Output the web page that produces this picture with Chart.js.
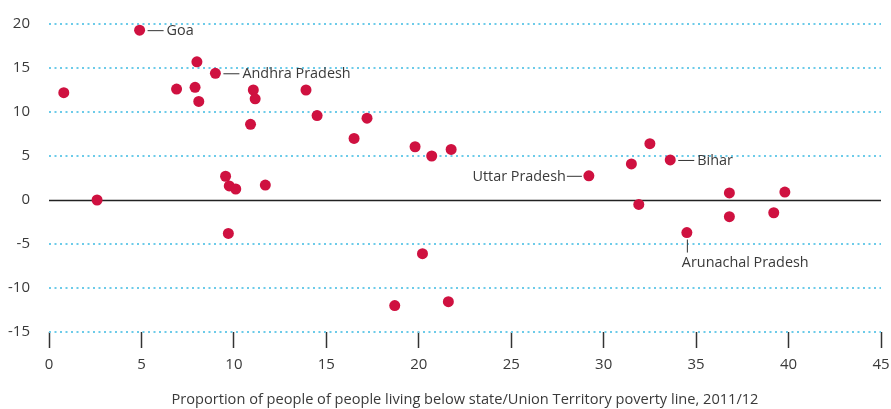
<!DOCTYPE html>
<html>
<head>
<meta charset="utf-8">
<script src="https://cdn.jsdelivr.net/npm/chart.js@4.4.1/dist/chart.umd.min.js"></script>
<style>
  html, body { margin: 0; padding: 0; background: #fff; }
  #wrap { width: 891px; height: 409px; }
</style>
</head>
<body>
<div id="wrap"><canvas id="scatter"></canvas></div>
<script>
// Values
var povertyShare = [0.8, 2.6, 4.9, 6.9, 7.9, 8.0, 8.1, 9.0, 11.05, 11.15, 10.9, 9.55, 9.75, 10.1, 11.7, 9.7,
  13.9, 14.5, 17.2, 16.5, 19.8, 20.7, 21.75, 20.2, 18.7, 21.6,
  29.2, 31.5, 32.5, 33.6, 31.9, 34.5, 36.8, 36.8, 39.2, 39.8];
var change = [12.2, 0, 19.3, 12.6, 12.8, 15.7, 11.2, 14.4, 12.5, 11.5, 8.6, 2.7, 1.6, 1.25, 1.7, -3.8,
  12.5, 9.6, 9.3, 7.0, 6.05, 5.0, 5.75, -6.1, -12.0, -11.55,
  2.75, 4.1, 6.4, 4.55, -0.5, -3.7, 0.8, -1.9, -1.45, 0.9];
var xTicks = [0, 5, 10, 15, 20, 25, 30, 35, 40, 45];
var yTicks = [-15, -10, -5, 0, 5, 10, 15, 20];
var labelledStates = ['Goa', 'Andhra Pradesh', 'Uttar Pradesh', 'Bihar', 'Arunachal Pradesh'];
var labelledIndex = [2, 7, 26, 29, 31];
var xTitle = 'Proportion of people of people living below state/Union Territory poverty line, 2011/12';

var textColor = '#3a3a3a';
var fontFamily = '"Open Sans", sans-serif';

// which side each callout sits on
var calloutSide = { 'Goa': 'right', 'Andhra Pradesh': 'right', 'Uttar Pradesh': 'left', 'Bihar': 'right', 'Arunachal Pradesh': 'below' };

var zeroLine = {
  id: 'zeroLine',
  beforeDatasetsDraw(chart) {
    var ctx = chart.ctx, area = chart.chartArea;
    var y = Math.round(chart.scales.y.getPixelForValue(0)) + 0.5;
    ctx.save();
    ctx.strokeStyle = '#222';
    ctx.lineWidth = 1.5;
    ctx.beginPath();
    ctx.moveTo(area.left, y);
    ctx.lineTo(area.right, y);
    ctx.stroke();
    ctx.restore();
  }
};

var callouts = {
  id: 'callouts',
  afterDatasetsDraw(chart) {
    var ctx = chart.ctx;
    var points = chart.getDatasetMeta(0).data;
    ctx.save();
    ctx.font = '14.4px ' + fontFamily;
    ctx.fillStyle = textColor;
    ctx.strokeStyle = '#333';
    ctx.lineWidth = 1;
    labelledIndex.forEach(function (idx, i) {
      var name = labelledStates[i];
      var p = points[idx];
      var side = calloutSide[name];
      ctx.beginPath();
      if (side === 'right') {
        ctx.moveTo(p.x + 8, p.y + 0.5);
        ctx.lineTo(p.x + 24, p.y + 0.5);
        ctx.stroke();
        ctx.textAlign = 'left';
        ctx.textBaseline = 'middle';
        ctx.fillText(name, p.x + 27, p.y + 1);
      } else if (side === 'left') {
        ctx.moveTo(p.x - 7, p.y + 0.5);
        ctx.lineTo(p.x - 22, p.y + 0.5);
        ctx.stroke();
        ctx.textAlign = 'right';
        ctx.textBaseline = 'middle';
        ctx.fillText(name, p.x - 23, p.y + 1);
      } else {
        ctx.moveTo(p.x + 0.5, p.y + 7);
        ctx.lineTo(p.x + 0.5, p.y + 20);
        ctx.stroke();
        ctx.textAlign = 'left';
        ctx.textBaseline = 'middle';
        ctx.fillText(name, p.x - 5, p.y + 30);
      }
    });
    ctx.restore();
  }
};

Chart.defaults.font.family = fontFamily;
Chart.defaults.color = textColor;

new Chart(document.getElementById('scatter'), {
  type: 'scatter',
  data: {
    datasets: [{
      data: povertyShare.map(function (x, i) { return { x: x, y: change[i] }; }),
      backgroundColor: '#cf1140',
      borderWidth: 0,
      pointRadius: 5.5,
      pointHoverRadius: 5.5
    }]
  },
  options: {
    responsive: true,
    maintainAspectRatio: false,
    animation: false,
    layout: { padding: { top: 24, right: 10, left: 0, bottom: 0 } },
    plugins: { legend: { display: false }, tooltip: { enabled: false } },
    scales: {
      x: {
        type: 'linear',
        min: 0,
        max: 45,
        afterBuildTicks: function (s) { s.ticks = xTicks.map(function (v) { return { value: v }; }); },
        afterFit: function (s) { s.height = 77; s.paddingLeft = 0; s.paddingRight = 0; },
        border: { display: false },
        grid: { drawOnChartArea: false, drawTicks: true, tickLength: 16, tickColor: '#333', tickWidth: 1.5 },
        ticks: { padding: 8, font: { size: 15 }, color: textColor, maxRotation: 0 },
        title: { display: true, text: xTitle, font: { size: 14.6 }, color: textColor, padding: { top: 0, bottom: 0 } }
      },
      y: {
        type: 'linear',
        min: -15,
        max: 20,
        afterBuildTicks: function (s) { s.ticks = yTicks.map(function (v) { return { value: v }; }); },
        afterFit: function (s) { s.width = 49; s.paddingTop = 0; s.paddingBottom = 0; },
        border: { display: false, dash: [2, 3.5] },
        grid: {
          drawTicks: false,
          lineWidth: 2,
          color: function (c) { return c.tick && c.tick.value === 0 ? 'rgba(0,0,0,0)' : '#6ccbe9'; }
        },
        ticks: { padding: 19, font: { size: 15 }, color: textColor }
      }
    }
  },
  plugins: [zeroLine, callouts]
});
</script>
</body>
</html>
